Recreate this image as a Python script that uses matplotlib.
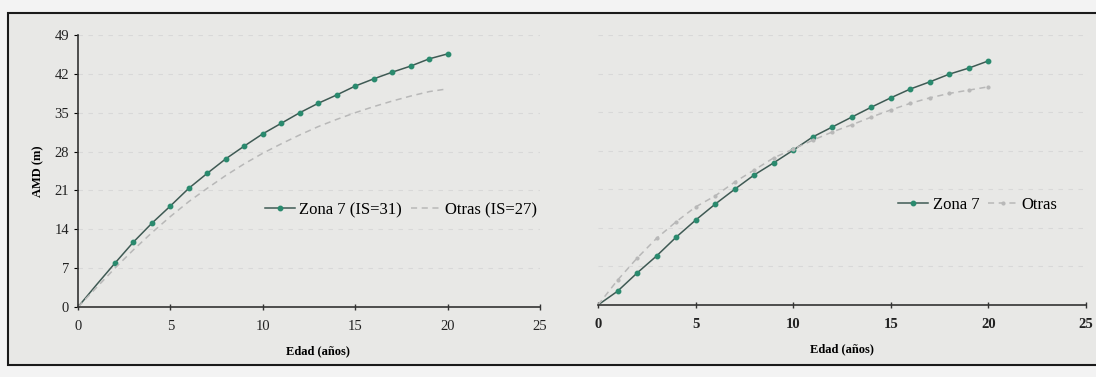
import matplotlib
matplotlib.use("Agg")
import matplotlib.pyplot as plt
from matplotlib.patches import Rectangle

ages = list(range(0, 21))

# Left panel (site index)
zona7_is31 = [0.0, 4.0, 7.9, 11.7, 15.1, 18.2, 21.4, 24.1, 26.7, 29.0, 31.2,
              33.1, 35.0, 36.7, 38.2, 39.8, 41.1, 42.3, 43.4, 44.7, 45.6]
otras_is27 = [0.0, 3.5, 7.0, 10.3, 13.4, 16.3, 19.0, 21.4, 23.7, 25.8, 27.7,
              29.4, 31.0, 32.5, 33.8, 35.0, 36.1, 37.1, 38.0, 38.8, 39.3]

# Right panel
zona7 = [0.0, 2.5, 5.8, 8.9, 12.3, 15.4, 18.3, 21.0, 23.6, 25.8, 28.1,
         30.5, 32.3, 34.1, 35.9, 37.6, 39.2, 40.5, 41.9, 43.0, 44.3]
otras = [0.0, 4.5, 8.5, 12.1, 15.1, 17.8, 19.8, 22.3, 24.5, 26.7, 28.3,
         29.9, 31.4, 32.7, 34.1, 35.4, 36.6, 37.6, 38.4, 39.0, 39.6]

xticks = [0, 5, 10, 15, 20, 25]
yticks = [0, 7, 14, 21, 28, 35, 42, 49]

plt.rcParams['font.family'] = ['Liberation Serif', 'DejaVu Serif']

W, H = 1096, 377
fig = plt.figure(figsize=(W / 100, H / 100), dpi=100, facecolor='#f3f3f3')

# outer frame
frame = Rectangle((8 / W, 1 - 365 / H), (W + 60) / W, (365 - 13) / H,
                  transform=fig.transFigure, facecolor='#e8e8e6',
                  edgecolor='#1a1a1a', linewidth=1.5, zorder=-10)
fig.patches.append(frame)

z_line = '#3f5a54'
z_mark = '#2a8a6e'
o_col = '#b8b8b8'

ax1 = fig.add_axes([78 / W, 1 - 307 / H, (540 - 78) / W, (307 - 35) / H], zorder=5)
ax2 = fig.add_axes([598 / W, 1 - 305 / H, (1086 - 598) / W, (305 - 35) / H], zorder=5)

for ax in (ax1, ax2):
    ax.patch.set_visible(False)
    ax.set_xlim(0, 25)
    ax.set_ylim(0, 49)
    ax.set_xticks(xticks)
    ax.set_yticks(yticks)
    for s in ('top', 'right'):
        ax.spines[s].set_visible(False)
    ax.spines['bottom'].set_color('#333333')
    ax.spines['bottom'].set_linewidth(1.2)
    ax.tick_params(axis='x', direction='inout', length=5, width=1, colors='#333333',
                   labelsize=10.5, labelcolor='#222222', pad=7)
    ax.grid(axis='y', linestyle=(0, (4, 5)), color='#d8d8d8', linewidth=0.8)
    ax.set_axisbelow(True)

legend_kw = dict(ncol=2, frameon=False, fontsize=12, handlelength=1.8,
                 columnspacing=0.5, handletextpad=0.25, borderpad=0)

# left panel
ax1.spines['left'].set_color('#333333')
ax1.spines['left'].set_linewidth(1.2)
ax1.tick_params(axis='y', direction='out', length=3, labelsize=10.5, labelcolor='#222222')
ax1.plot(ages, zona7_is31, color=z_line, lw=1.1, marker='o', ms=3.2,
         mfc=z_mark, mec=z_mark, markevery=slice(2, None), label='Zona 7 (IS=31)')
ax1.plot(ages, otras_is27, color=o_col, lw=1.1, ls=(0, (4, 3)),
         label='Otras (IS=27)')
ax1.set_xlabel('Edad (años)', fontsize=9, fontweight='bold')
ax1.xaxis.set_label_coords(0.52, -0.14)
ax1.set_ylabel('AMD (m)', fontsize=9, fontweight='bold')
ax1.yaxis.set_label_coords(-0.072, 0.5)
ax1.legend(loc='center', bbox_to_anchor=(401 / W, 1 - 210 / H),
           bbox_transform=fig.transFigure, **legend_kw)

# right panel
ax2.spines['left'].set_visible(False)
ax2.tick_params(axis='y', left=False, labelleft=False)
for lab in ax2.get_xticklabels():
    lab.set_fontweight('bold')
ax2.plot(ages, zona7, color=z_line, lw=1.1, marker='o', ms=3.2,
         mfc=z_mark, mec=z_mark, markevery=slice(1, None), label='Zona 7')
ax2.plot(ages, otras, color=o_col, lw=1.1, ls=(0, (4, 3)), marker='o', ms=2,
         mfc=o_col, mec=o_col, markevery=slice(1, None), label='Otras')
ax2.set_xlabel('Edad (años)', fontsize=9, fontweight='bold')
ax2.xaxis.set_label_coords(0.5, -0.14)
ax2.legend(loc='center', bbox_to_anchor=(978 / W, 1 - 205 / H),
           bbox_transform=fig.transFigure, **legend_kw)

fig.savefig('out.png', dpi=100, facecolor=fig.get_facecolor())
